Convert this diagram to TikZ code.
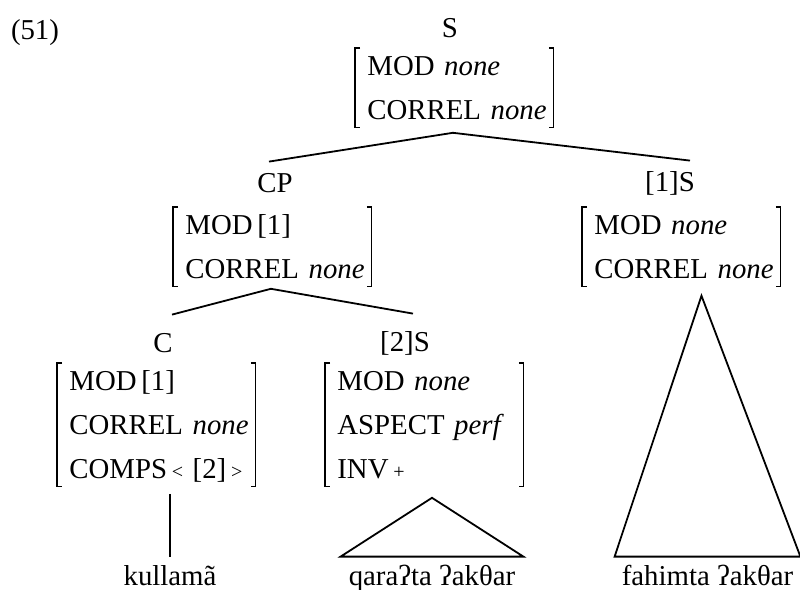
\documentclass[tikz,border=0pt]{standalone}
\usepackage{fontspec}
\setmainfont{Liberation Serif}
\usetikzlibrary{calc}
\newcommand\avmstrut{\rule[-2.75pt]{0pt}{15.5pt}}
\newcommand\smallsym[1]{{\fontsize{10pt}{10pt}\selectfont#1}}
% square brackets round an avm node
\newcommand\avmbrackets[1]{%
  \draw[avmbr] ([xshift=-3.5pt]#1.north west) -- ([xshift=-6pt]#1.north west)
    -- ([xshift=-6pt]#1.south west) -- ([xshift=-3.5pt]#1.south west);
  \draw[avmbr] ([xshift=-2pt]#1.north east) -- ([xshift=0.5pt]#1.north east)
    -- ([xshift=0.5pt]#1.south east) -- ([xshift=-2pt]#1.south east);}

\begin{document}
\begin{tikzpicture}[x=0.5pt,y=-0.5pt,
    font=\fontsize{14.4pt}{22pt}\selectfont,
    lab/.style={anchor=base,inner sep=0pt,text height=9.5pt},
    avm/.style={anchor=north west,inner xsep=0pt,inner ysep=1pt,text width=92.5pt,align=left,
      execute at begin node=\avmstrut,execute at end node=\avmstrut},
    avmbr/.style={line width=0.6pt},
    branch/.style={line width=0.9pt},
    word/.style={anchor=base,inner xsep=0pt,inner ysep=4pt,text height=10pt,text depth=3pt}]
		%%%%% START %%%%%
		\useasboundingbox (0,0) rectangle (800,590);
		
		\node[lab] (ex) at (35,39) {(51)};
		
		\node[lab] (s) at (450,37) {S};
		\node[avm] (s-avm) at (367,48) {MOD \textit{none}\\CORREL \textit{none}};
		
		\node[lab] (cp) at (275,192) {CP};
		\node[avm] (cp-avm) at (185,207) {MOD\,[1]\\CORREL \textit{none}};
		
		\node[lab] (s1) at (670,191) {[1]S};
		\node[avm] (s1-avm) at (594,207) {MOD \textit{none}\\CORREL \textit{none}};
		
		\node[lab] (c) at (163,352) {C};
		\node[avm] (c-avm) at (69,363) {MOD\,[1]\\CORREL \textit{none}\\COMPS\,\smallsym{<} [2]\,\smallsym{>}};
		
		\node[lab] (s2) at (405,351) {[2]S};
		\node[avm] (s2-avm) at (337,363) {MOD \textit{none}\\ASPECT \textit{perf}\\INV\,\smallsym{+}};
		
		\node[word] (w1) at (170,585) {kullamã};
		\node[word,minimum width=91pt] (w2) at (432,585) {qaraʔta ʔakθar};
		\node[word,minimum width=92.5pt] (w3) at (707.5,585) {fahimta ʔakθar};
		
		\avmbrackets{s-avm}
		\avmbrackets{cp-avm}
		\avmbrackets{s1-avm}
		\avmbrackets{c-avm}
		\avmbrackets{s2-avm}
		
		\draw[branch] ([xshift=-3pt,yshift=5.5pt]cp.north) -- ([xshift=-3.5pt,yshift=-2.5pt]s-avm.south) -- ([xshift=10pt,yshift=5.5pt]s1.north);
		\draw[branch] ([xshift=4.5pt,yshift=9pt]c.north) -- ([xshift=-3.5pt,yshift=-1pt]cp-avm.south) -- ([xshift=4pt,yshift=9pt]s2.north);
		
		\draw[branch] ($(c-avm.south -| w1.north)+(0,7)$) -- (w1.north);
		\draw[branch] ($(s2-avm.south -| w2.north)+(0,11)$) -- (w2.north east) -- (w2.north west) -- cycle;
		\draw[branch] ($(s1-avm.south -| w3.north)+(-6,9)$) -- (w3.north east) -- (w3.north west) -- cycle;
		
		%%%%% END %%%%%
\end{tikzpicture}
\end{document}
